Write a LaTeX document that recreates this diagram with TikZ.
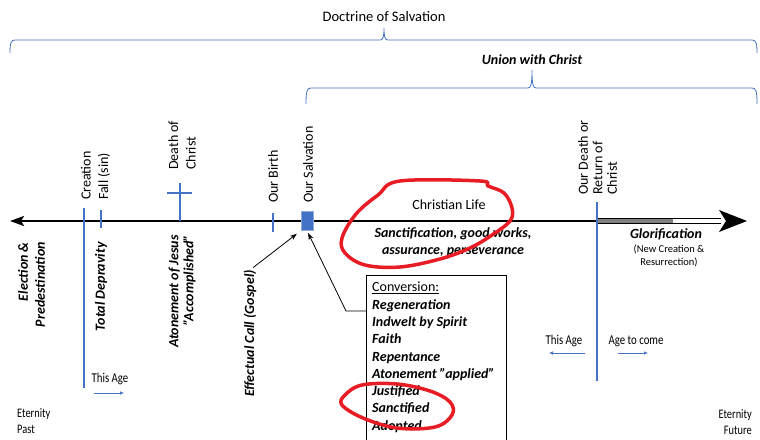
\documentclass[tikz,border=0pt]{standalone}
\usepackage{fontspec}
\setmainfont{Carlito}
\newfontfamily\narrowfont[FakeStretch=0.8]{Carlito}
\usepackage{tikz}
\usetikzlibrary{arrows.meta}

\definecolor{tlblue}{RGB}{68,114,196}
\definecolor{penred}{RGB}{232,28,36}

\tikzset{
  tick/.style={tlblue, line width=1.1pt},
  brace/.style={tlblue, line width=0.8pt},
  uplabel/.style={rotate=90, anchor=west, align=left, inner sep=0pt,
    font=\fontsize{14}{17.5}\selectfont},
  lowlabel/.style={rotate=90, anchor=east, align=right, inner sep=0pt,
    font=\fontsize{14}{17}\selectfont\bfseries\itshape},
  agetext/.style={inner sep=0pt, font=\narrowfont\fontsize{13.5}{16}\selectfont},
  agearrow/.style={tlblue, line width=0.6pt, -{Latex[length=4pt,width=3.5pt]}},
  callarrow/.style={line width=0.8pt, -{Stealth[length=7pt,width=5pt]}},
  convbox/.style={anchor=north west, align=flush left, text width=128pt,
    inner xsep=6pt, inner ysep=0pt,
    font=\fontsize{14}{17.3}\selectfont\bfseries\itshape},
  pen/.style={penred, line width=3.5pt, line cap=round, line join=round},
}

\begin{document}
\begin{tikzpicture}[x=1pt,y=-1pt]
\useasboundingbox (0,0) rectangle (760,439);

% braces
\node[font=\fontsize{14.5}{17}\selectfont] (doctrine) at (384,17) {Doctrine of Salvation};
\draw[brace] (10,53) .. controls (10,43) and (11,40) .. (15,40) -- (380,40)
  .. controls (383,40) and (384,37) .. (384,28)
  .. controls (384,37) and (385,40) .. (388,40) -- (752,40)
  .. controls (756,40) and (757,43) .. (757,53);
\node[font=\fontsize{14}{17}\selectfont\bfseries\itshape] (union) at (532,60) {Union with Christ};
\draw[brace] (306,104) .. controls (306,91) and (307,88) .. (311,88) -- (528,88)
  .. controls (531,88) and (532,84) .. (532,70)
  .. controls (532,84) and (533,88) .. (536,88) -- (752,88)
  .. controls (756,88) and (757,91) .. (757,104);

% time line
\coordinate (axisL) at (10,221);
\coordinate (axisM) at (597,221);
\coordinate (axisG) at (673,221);
\coordinate (axisE) at (721,221);
\coordinate (axisR) at (747,221);
\draw[line width=2.6pt, -{Stealth[length=14pt,width=10pt,inset=3pt]}] (axisM) -- (axisL);
\draw[line width=1.2pt, double=white, double distance=3.4pt] (axisM) -- (axisE);
\draw[line width=3.4pt, black!50] (axisM) -- (axisG);
\fill (axisR) -- (719,210) -- (726,221) -- (719,232) -- cycle;

% marks on the line
\draw[tick] (84,208) -- (84,388);
\draw[tick] (101,210) -- (101,228);
\draw[tick] (180,183) -- (180,221);
\draw[tick] (167,193) -- (192,193);
\draw[tick] (273,213) -- (273,232);
\draw[tick] (597,202) -- (597,381);
\node[fill=tlblue, draw=tlblue!60, minimum width=12pt, minimum height=19pt, inner sep=0pt] (salv) at (307,221) {};

% labels above
\node[uplabel] (creation) at (95.5,200) {Creation\\Fall (sin)};
\node[uplabel] (death) at (182,170) {Death of\\Christ};
\node[uplabel] (birth) at (273,203) {Our Birth};
\node[uplabel] (oursalv) at (308,203) {Our Salvation};
\node[uplabel, font=\fontsize{14}{14.5}\selectfont] (return) at (597.5,195) {Our Death or\\Return of\\Christ};

% labels below
\node[lowlabel] (elect) at (31.5,242) {Election \&\\Predestination};
\node[lowlabel] (depravity) at (101,242) {Total Depravity};
\node[lowlabel, font=\fontsize{14}{15}\selectfont\bfseries\itshape] (atone) at (182,235) {Atonement of Jesus\\”Accomplished”};
\node[lowlabel] (call) at (250,270) {Effectual Call (Gospel)};

\node[font=\fontsize{14}{17}\selectfont] (life) at (449,205) {Christian Life};
\node[align=center, font=\fontsize{14}{17}\selectfont\bfseries\itshape] (works) at (453,242)
  {Sanctification, good works,\\assurance, perseverance};
\node[font=\fontsize{14}{17}\selectfont\bfseries\itshape] (glory) at (666,234) {Glorification};
\node[align=center, inner sep=0pt, font=\fontsize{10.5}{12.5}\selectfont] (newcreation) at (669,256)
  {(New Creation \&\\Resurrection)};

% conversion box
\coordinate (convtop) at (366,275);
\node[convbox] (conv) at (366,282) {{\normalfont\underline{Conversion:}}\\Regeneration\\Indwelt by Spirit\\Faith\\Repentance\\Atonement ”applied”\\Justified\\Sanctified\\Adopted};
\draw[line width=0.8pt] (convtop |- 0,445) -- (convtop) -- (conv.east |- convtop) -- (conv.east |- 0,445);

% arrows to our salvation
\coordinate (bend) at (346,311);
\draw[callarrow, shorten <=4pt, shorten >=5pt] (call.east) -- (salv.south west);
\draw[callarrow, shorten >=2.5pt] (convtop |- bend) -- (bend) -- (salv.south);

% ages
\node[agetext] (thisage) at (110,379) {This Age};
\coordinate (thisageA) at (94,393);
\coordinate (thisageB) at (124,393);
\draw[agearrow] (thisageA) -- (thisageB);
\node[agetext] (thisage2) at (564,341) {This Age};
\node[agetext] (tocome) at (636,341) {Age to come};
\coordinate (ageA) at (585,353);
\coordinate (ageB) at (549,353);
\coordinate (ageC) at (618,353);
\coordinate (ageD) at (648,353);
\draw[agearrow] (ageA) -- (ageB);
\draw[agearrow] (ageC) -- (ageD);
\node[agetext, font=\narrowfont\fontsize{13}{16}\selectfont, align=left, anchor=west] (past) at (17,421) {Eternity\\Past};
\node[agetext, font=\narrowfont\fontsize{13}{15.5}\selectfont, align=right, anchor=east] (future) at (752,422) {Eternity\\Future};

% pen marks
\draw[pen] plot[smooth cycle, tension=0.6] coordinates {(400,181) (480,181) (488,186) (504,193) (512,208) (510,221) (492,235) (470,248) (440,259) (400,267) (365,265) (345,253) (342,238) (356,214) (378,195)};
\draw[pen] plot[smooth cycle, tension=0.6] coordinates {(345,395) (362,385) (397,384) (430,391) (450,402) (452,415) (435,427) (397,428) (363,418) (342,405)};
\end{tikzpicture}
\end{document}
